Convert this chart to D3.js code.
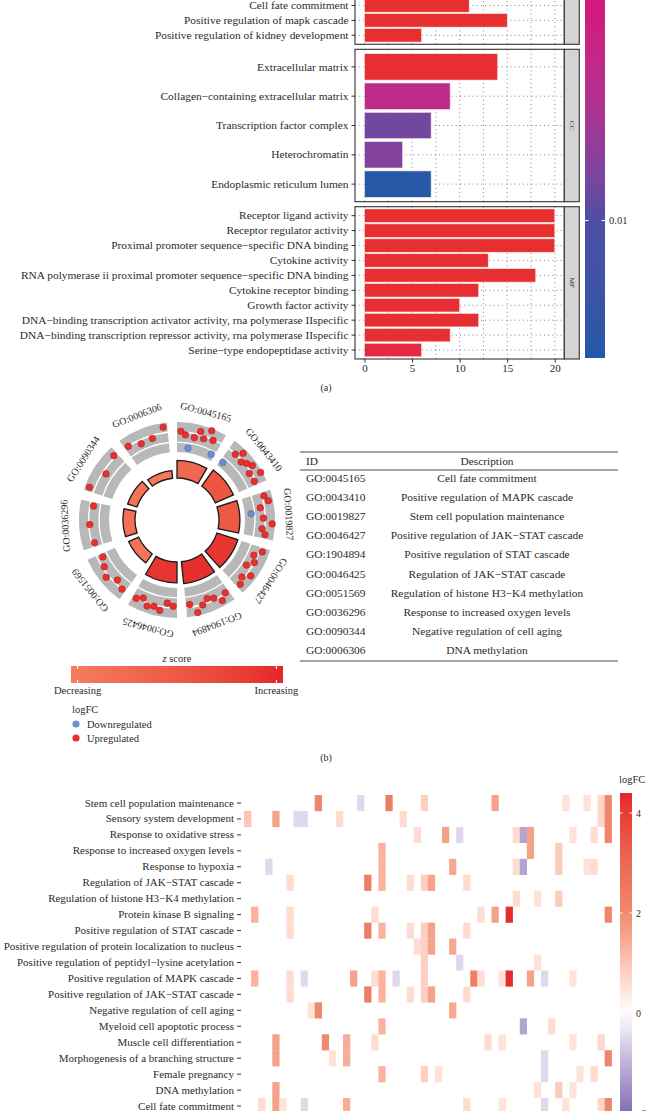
<!DOCTYPE html>
<html><head><meta charset="utf-8">
<script src="https://cdn.jsdelivr.net/npm/d3@7"></script>
<style>
body{margin:0;background:#fff}
svg{display:block}
text{font-family:"Liberation Serif","DejaVu Serif",serif;}
</style>
</head><body>
<svg id="c" width="651" height="1111"></svg>
<script>
// ================= DATA =================
// Panel (a): GO enrichment bar chart (BP panel is cropped at the top of the figure)
const bpTerms = ["Cell fate commitment","Positive regulation of mapk cascade","Positive regulation of kidney development"];
const bpCounts = [11,15,6];
const bpPadj = [0.0003,0.0003,0.0003];
const ccTerms = ["Extracellular matrix","Collagen\u2212containing extracellular matrix","Transcription factor complex","Heterochromatin","Endoplasmic reticulum lumen"];
const ccCounts = [14,9,7,4,7];
const ccPadj = [0.0005,0.0055,0.0089,0.0083,0.0139];
const mfTerms = ["Receptor ligand activity","Receptor regulator activity","Proximal promoter sequence\u2212specific DNA binding","Cytokine activity","RNA polymerase ii proximal promoter sequence\u2212specific DNA binding","Cytokine receptor binding","Growth factor activity","DNA\u2212binding transcription activator activity, rna polymerase IIspecific","DNA\u2212binding transcription repressor activity, rna polymerase IIspecific","Serine\u2212type endopeptidase activity"];
const mfCounts = [20,20,20,13,18,12,10,12,9,6];
const mfPadj = [0.0003,0.0003,0.0003,0.0004,0.0003,0.0004,0.0004,0.0004,0.0004,0.0010];
const countTicks = [0,5,10,15,20];
const padjTicks = [0.01];
const padjRange = [0.0002,0.0142];

// Panel (b): GO circle + table
const goIds = ["GO:0045165","GO:0043410","GO:0019827","GO:0046427","GO:1904894","GO:0046425","GO:0051569","GO:0036296","GO:0090344","GO:0006306"];
const goDesc = ["Cell fate commitment","Positive regulation of MAPK cascade","Stem cell population maintenance","Positive regulation of JAK\u2212STAT cascade","Positive regulation of STAT cascade","Regulation of JAK\u2212STAT cascade","Regulation of histone H3\u2212K4 methylation","Response to increased oxygen levels","Negative regulation of cell aging","DNA methylation"];
const goNegLogP = [8.0,9.0,9.5,10.0,10.0,9.5,5.0,5.5,4.5,3.5];
const goZscore = [2.3,2.7,2.6,3.2,3.3,3.2,2.0,2.1,2.0,1.9];
const goGeneLogFC = [
  [2.5,1.8,-1.0,1.5,3.1,1.8,4.0,2.2,-0.7],
  [-0.8,2.3,3.6,2.0,2.7,3.4,1.9,4.1,2.0],
  [2.8,3.5,1.5,-0.6,2.0,3.9,1.8,2.6],
  [3.0,1.6,2.4,1.2,3.3,2.0,2.8],
  [2.2,3.3,2.0,1.5,2.5,3.8,1.8],
  [2.0,1.4,3.2,2.6,3.0,1.7,2.4],
  [2.4,1.6,3.0,2.0,1.2],
  [1.8,2.2,1.6],
  [3.5,1.6,2.8],
  [2.4,1.5,1.7,3.6]
];
const logfcLegend = ["Downregulated","Upregulated"];

// Panel (c): heatmap of genes (columns) x GO terms (rows)
const hmRows = ["Stem cell population maintenance","Sensory system development","Response to oxidative stress","Response to increased oxygen levels","Response to hypoxia","Regulation of JAK\u2212STAT cascade","Regulation of histone H3\u2212K4 methylation","Protein kinase B signaling","Positive regulation of STAT cascade","Positive regulation of protein localization to nucleus","Positive regulation of peptidyl\u2212lysine acetylation","Positive regulation of MAPK cascade","Positive regulation of JAK\u2212STAT cascade","Negative regulation of cell aging","Myeloid cell apoptotic process","Muscle cell differentiation","Morphogenesis of a branching structure","Female pregnancy","DNA methylation","Cell fate commitment"];
const geneLogFC = [1.0,1.3,0.6,-0.5,1.6,0.5,0.6,-0.5,-0.5,0.5,
                   2.1,2.0,0.5,0.6,1.4,1.6,-0.5,2.4,0.6,1.3,
                   2.4,-0.5,0.6,0.6,0.6,0.8,1.6,0.5,1.6,1.5,
                   -0.5,0.6,2.3,0.6,0.6,1.6,0.5,4.3,0.6,-1.2,
                   1.6,0.5,-0.5,0.6,0.9,0.5,0.5,0.5,0.5,0.6,
                   0.7,2.1];
const hmMembers = [
  [10,16,20,25,35,45,48,50,51],
  [0,4,7,8,13,22,50,51],
  [24,28,30,38,39,40,46,49,51],
  [19,40,44],
  [3,19,29,38,39,44,48,49],
  [6,17,19,23,25,26,31],
  [38,41,44],
  [1,6,18,33,35,37,51],
  [6,17,19,23,25,26,31],
  [24,25,26,29],
  [25,30,41],
  [1,6,8,15,18,19,21,25,32,33,36,37,40,42,46],
  [6,17,19,23,25,26,31],
  [9,10,29],
  [19,39,43],
  [4,11,14,18,34,36,46,50],
  [4,12,14,42,51],
  [19,25,27,42,47,49],
  [4,41,44,46],
  [2,4,5,8,14,31,36,42,45,50,51]
];
const hmTicks = [-2,0,2,4];
const hmRange = [-2.3,4.4];

// ================= DRAW =================
const svg = d3.select("#c");
const INK = "#2b2b2b";
const SERIF = '"Liberation Serif","DejaVu Serif",serif';
const defs = svg.append("defs");

// ---------- (a) ----------
const xA = d3.scaleLinear().domain([-1,21]).range([355,564.3]);
const pT = [0,0.22,0.44,0.56,0.70,1];
const padjColor = d3.scaleLinear()
  .domain(pT.map(t => padjRange[0] + t*(padjRange[1]-padjRange[0])))
  .range(["#e8302c","#d6137e","#b3308f","#8a3f9c","#4d4ea3","#2259a8"])
  .interpolate(d3.interpolateLab);

const facets = [
  {label:"BP", terms:bpTerms, counts:bpCounts, padj:bpPadj, top:-108.1, bottom:44.3, slots:10},
  {label:"CC", terms:ccTerms, counts:ccCounts, padj:ccPadj, top:49.3, bottom:201.7, slots:5},
  {label:"MF", terms:mfTerms, counts:mfCounts, padj:mfPadj, top:206.7, bottom:359, slots:10}
];
const gA = svg.append("g");
facets.forEach(f => {
  const step = (f.bottom - f.top)/(f.slots + 0.2);
  const y = d3.scaleBand().domain(f.terms)
    .range([f.bottom - (f.terms.length + 0.2)*step, f.bottom])
    .paddingInner(0.1).paddingOuter(0.15);
  const g = gA.append("g");
  const gridV = d3.range(0, 20.01, 2.5);
  g.selectAll(".gv").data(gridV).join("line")
    .attr("x1", d => xA(d)).attr("x2", d => xA(d))
    .attr("y1", f.top).attr("y2", f.bottom)
    .attr("stroke", "#666").attr("stroke-width", 0.8).attr("stroke-dasharray", "1,3.2");
  g.selectAll(".gh").data(f.terms).join("line")
    .attr("x1", xA(-1)).attr("x2", xA(21))
    .attr("y1", d => y(d) + y.bandwidth()/2).attr("y2", d => y(d) + y.bandwidth()/2)
    .attr("stroke", "#666").attr("stroke-width", 0.8).attr("stroke-dasharray", "1,3.2");
  g.selectAll(".bar").data(f.terms).join("rect")
    .attr("x", xA(0)).attr("y", d => y(d))
    .attr("width", (d,i) => xA(f.counts[i]) - xA(0))
    .attr("height", y.bandwidth())
    .attr("fill", (d,i) => padjColor(f.padj[i]))
    .attr("stroke", "#fbe3e3").attr("stroke-width", 0.6);
  g.append("rect").attr("x", xA(-1)).attr("y", f.top)
    .attr("width", xA(21) - xA(-1)).attr("height", f.bottom - f.top)
    .attr("fill", "none").attr("stroke", "#333").attr("stroke-width", 1.1);
  g.append("rect").attr("x", xA(21)).attr("y", f.top).attr("width", 15).attr("height", f.bottom - f.top)
    .attr("fill", "#d4d4d4").attr("stroke", "#333").attr("stroke-width", 1.1);
  if (f.top >= 0) {
    g.append("text").attr("transform", `translate(${xA(21)+7.5},${(f.top+f.bottom)/2}) rotate(90)`)
      .attr("text-anchor","middle").attr("dominant-baseline","central")
      .attr("font-size", 7).attr("fill", "#333").text(f.label);
  }
  const ax = g.append("g").attr("transform", `translate(${xA(-1)},0)`)
    .call(d3.axisLeft(y).tickSize(3.5).tickPadding(3));
  ax.select(".domain").remove();
  ax.selectAll(".tick line").attr("stroke", "#333");
  ax.selectAll(".tick text").attr("font-size", 11.4).attr("fill", INK).style("font-family", SERIF);
  if (f.label === "MF") {
    const bx = g.append("g").attr("transform", `translate(0,${f.bottom})`)
      .call(d3.axisBottom(xA).tickValues(countTicks).tickSize(3.5).tickPadding(2));
    bx.select(".domain").remove();
    bx.selectAll(".tick line").attr("stroke", "#333");
    bx.selectAll(".tick text").attr("font-size", 11).attr("fill", INK).style("font-family", SERIF);
  }
});
const cbA = d3.scaleLinear().domain(padjRange).range([-100, 358]);
const gradA = defs.append("linearGradient").attr("id","gA").attr("x1",0).attr("x2",0).attr("y1",0).attr("y2",1);
d3.range(0,1.0001,0.05).forEach(t => gradA.append("stop").attr("offset", t)
  .attr("stop-color", padjColor(padjRange[0] + t*(padjRange[1]-padjRange[0]))));
gA.append("rect").attr("x",585).attr("y",cbA.range()[0]).attr("width",20)
  .attr("height", cbA.range()[1]-cbA.range()[0]).attr("fill","url(#gA)");
padjTicks.forEach(v => {
  gA.append("line").attr("x1",585).attr("x2",588.5).attr("y1",cbA(v)).attr("y2",cbA(v)).attr("stroke","#fff").attr("stroke-width",1);
  gA.append("line").attr("x1",601.5).attr("x2",605).attr("y1",cbA(v)).attr("y2",cbA(v)).attr("stroke","#fff").attr("stroke-width",1);
  gA.append("text").attr("x",609).attr("y",cbA(v)).attr("dominant-baseline","central")
    .attr("font-size",10.5).attr("fill",INK).text(v);
});
svg.append("text").attr("x",326).attr("y",391).attr("text-anchor","middle").attr("font-size",10).attr("fill",INK).text("(a)");

// ---------- (b) ----------
const cx = 177, cy = 520;
const gB = svg.append("g").attr("transform", `translate(${cx},${cy})`);
const segDeg = 36, segSpan = 30;
const rad = d => d*Math.PI/180;
const zRange = [1.8,3.4];
const zColor = d3.scaleLinear().domain(zRange).range(["#f47d60","#e5262a"]).interpolate(d3.interpolateLab);
const rBar = d3.scaleLinear().domain([0,10]).range([42,64]);
const rGene = d3.scaleLinear().domain([-2,4.5]).range([68,98]);
const arc = d3.arc();
const ringBands = [[68,77.2],[78.6,87.6],[89,98]];
goIds.forEach((id,i) => {
  const a0 = rad(i*segDeg), a1 = rad(i*segDeg + segSpan);
  ringBands.forEach(b => {
    gB.append("path").attr("d", arc({innerRadius:b[0], outerRadius:b[1], startAngle:a0, endAngle:a1}))
      .attr("fill", "#b8b8b8");
  });
  gB.append("path").attr("d", arc({innerRadius:rBar(0), outerRadius:rBar(goNegLogP[i]), startAngle:a0, endAngle:a1}))
    .attr("fill", zColor(goZscore[i])).attr("stroke", "#1a1a1a").attr("stroke-width", 1.3);
  const genes = goGeneLogFC[i];
  const ang = d3.scalePoint().domain(d3.range(genes.length)).range([i*segDeg+2.5, i*segDeg+segSpan-2.5]);
  genes.forEach((v,k) => {
    const a = rad(ang(k)), r = rGene(v);
    gB.append("circle").attr("cx", r*Math.sin(a)).attr("cy", -r*Math.cos(a)).attr("r", 3.3)
      .attr("fill", v < 0 ? "#6b8fd4" : "#e8302e").attr("stroke", v < 0 ? "#4e6fb0" : "#b3201f").attr("stroke-width", 0.6);
  });
  const la = i*segDeg + segSpan/2, lr = 112;
  gB.append("text").attr("transform", `translate(${lr*Math.sin(rad(la))},${-lr*Math.cos(rad(la))}) rotate(${la})`)
    .attr("text-anchor","middle").attr("dominant-baseline","central").attr("font-size",10).attr("fill",INK).text(id);
});
const zx = d3.scaleLinear().domain(zRange).range([71,283]);
const gradZ = defs.append("linearGradient").attr("id","gZ");
d3.range(0,1.0001,0.1).forEach(t => gradZ.append("stop").attr("offset",t).attr("stop-color", zColor(zRange[0]+t*(zRange[1]-zRange[0]))));
svg.append("text").attr("x",177).attr("y",662).attr("text-anchor","middle").attr("font-size",10.5).attr("fill",INK)
  .html('<tspan font-style="italic">z</tspan> score');
svg.append("rect").attr("x",zx.range()[0]).attr("y",666).attr("width",zx.range()[1]-zx.range()[0]).attr("height",17).attr("fill","url(#gZ)");
[zRange[0]+0.05, zRange[1]-0.05].forEach(v => {
  svg.append("line").attr("x1",zx(v)).attr("x2",zx(v)).attr("y1",666).attr("y2",669).attr("stroke","#fff");
  svg.append("line").attr("x1",zx(v)).attr("x2",zx(v)).attr("y1",680).attr("y2",683).attr("stroke","#fff");
});
svg.append("text").attr("x",zx(zRange[0]+0.05)).attr("y",694).attr("text-anchor","middle").attr("font-size",10.5).attr("fill",INK).text("Decreasing");
svg.append("text").attr("x",zx(zRange[1]-0.05)).attr("y",694).attr("text-anchor","middle").attr("font-size",10.5).attr("fill",INK).text("Increasing");
svg.append("text").attr("x",72).attr("y",713).attr("font-size",10.5).attr("fill",INK).text("logFC");
logfcLegend.forEach((t,i) => {
  svg.append("circle").attr("cx",76).attr("cy",724+i*14).attr("r",3.6).attr("fill", i===0 ? "#6b8fd4" : "#e8302e");
  svg.append("text").attr("x",87).attr("y",724+i*14).attr("dominant-baseline","central").attr("font-size",10.5).attr("fill",INK).text(t);
});
const tY = d3.scalePoint().domain(goIds).range([478,650]);
const gT = svg.append("g");
[452,470,661].forEach(yv => gT.append("line").attr("x1",300).attr("x2",618).attr("y1",yv).attr("y2",yv).attr("stroke","#333").attr("stroke-width",0.9));
gT.append("text").attr("x",306).attr("y",461).attr("dominant-baseline","central").attr("font-size",11.4).attr("fill",INK).text("ID");
gT.append("text").attr("x",487).attr("y",461).attr("text-anchor","middle").attr("dominant-baseline","central").attr("font-size",11.4).attr("fill",INK).text("Description");
goIds.forEach((id,i) => {
  gT.append("text").attr("x",306).attr("y",tY(id)).attr("dominant-baseline","central").attr("font-size",11.4).attr("fill",INK).text(id);
  gT.append("text").attr("x",487).attr("y",tY(id)).attr("text-anchor","middle").attr("dominant-baseline","central").attr("font-size",11.4).attr("fill",INK).text(goDesc[i]);
});
svg.append("text").attr("x",326).attr("y",761).attr("text-anchor","middle").attr("font-size",10).attr("fill",INK).text("(b)");

// ---------- (c) ----------
const xH = d3.scaleBand().domain(d3.range(geneLogFC.length)).range([244,611.7]);
const yH = d3.scaleBand().domain(hmRows).range([795,1114]);
const hmColor = d3.scaleLinear().domain([hmRange[0],0,2,hmRange[1]])
  .range(["#6e58aa","#ffffff","#ef8a6f","#e5262a"]).interpolate(d3.interpolateLab);
const gH = svg.append("g");
hmRows.forEach((row,ri) => {
  hmMembers[ri].forEach(c => {
    gH.append("rect").attr("x", xH(c)).attr("y", yH(row))
      .attr("width", xH.bandwidth()+0.2).attr("height", yH.bandwidth()+0.2)
      .attr("fill", hmColor(geneLogFC[c]));
  });
});
const axH = gH.append("g").attr("transform","translate(241,0)").call(d3.axisLeft(yH).tickSize(4).tickPadding(3));
axH.select(".domain").remove();
axH.selectAll(".tick line").attr("stroke","#333");
axH.selectAll(".tick text").attr("font-size",11).attr("fill",INK).style("font-family",SERIF);
const yL = d3.scaleLinear().domain(hmRange).range([1128,793]);
const gradH = defs.append("linearGradient").attr("id","gH").attr("x1",0).attr("x2",0).attr("y1",1).attr("y2",0);
d3.range(0,1.0001,0.05).forEach(t => gradH.append("stop").attr("offset",t).attr("stop-color", hmColor(hmRange[0]+t*(hmRange[1]-hmRange[0]))));
gH.append("rect").attr("x",620).attr("y",yL(hmRange[1])).attr("width",12).attr("height",yL(hmRange[0])-yL(hmRange[1])).attr("fill","url(#gH)");
hmTicks.forEach(v => {
  gH.append("line").attr("x1",620).attr("x2",622.5).attr("y1",yL(v)).attr("y2",yL(v)).attr("stroke","#fff");
  gH.append("line").attr("x1",629.5).attr("x2",632).attr("y1",yL(v)).attr("y2",yL(v)).attr("stroke","#fff");
  gH.append("text").attr("x",636).attr("y",yL(v)).attr("dominant-baseline","central").attr("font-size",10).attr("fill",INK).text(v < 0 ? "\u2212" + Math.abs(v) : v);
});
gH.append("text").attr("x",619).attr("y",783).attr("font-size",10.5).attr("fill",INK).text("logFC");
</script>
</body></html>
